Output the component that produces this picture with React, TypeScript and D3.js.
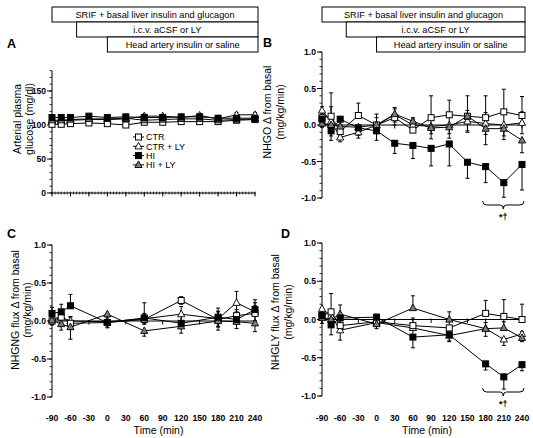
import React from 'react';
import * as d3 from 'd3';

const FONT = "'Liberation Sans', Arial, Helvetica, sans-serif";

// ---------- data ----------
const timesFull = [-90, -75, -60, -30, 0, 30, 60, 90, 120, 150, 180, 210, 240];
const timesSparse = [-90, -75, -60, 0, 60, 120, 180, 210, 240];
const xTickValues = [-90, -60, -30, 0, 30, 60, 90, 120, 150, 180, 210, 240];
const glucoseTicks = [0, 50, 100, 150];
const fluxTicks = [-1, -0.5, 0, 0.5, 1];
const legendNames = ['CTR', 'CTR + LY', 'HI', 'HI + LY'];
const headerLabels = ['SRIF + basal liver insulin and glucagon', 'i.c.v. aCSF or LY', 'Head artery insulin or saline'];
const headerStarts = [-90, -50, 0];

// A: arterial plasma glucose (mg/dl)
const glucCTR = [101, 101, 102, 103, 102, 100, 104, 104, 105, 105, 105, 107, 108];
const glucCTRLY = [105, 106, 107, 108, 108, 109, 113, 113, 111, 114, 109, 115, 115];
const glucHI = [111, 111, 111, 113, 111, 112, 111, 111, 112, 112, 110, 110, 110];
const glucHILY = [107, 107, 108, 109, 109, 110, 107, 108, 109, 109, 107, 108, 109];
const glucErrCTR = [2, 2, 2, 3, 3, 2, 2, 3, 2, 2, 3, 2, 2];
const glucErrCTRLY = [3, 2, 3, 2, 3, 3, 3, 2, 3, 3, 2, 3, 3];
const glucErrHI = [3, 2, 2, 3, 2, 3, 2, 2, 3, 2, 3, 3, 2];
const glucErrHILY = [2, 3, 2, 2, 3, 2, 3, 2, 2, 3, 2, 2, 3];

// B: NHGO
const ngoCTR = [0.10, 0.12, -0.09, 0.13, 0.0, 0.10, -0.07, 0.10, 0.14, 0.12, 0.10, 0.18, 0.13];
const ngoCTRLY = [0.20, 0.05, -0.17, -0.10, 0.0, 0.14, 0.0, -0.02, 0.0, 0.05, 0.02, 0.0, 0.03];
const ngoHI = [0.08, -0.08, 0.08, -0.04, -0.08, -0.25, -0.28, -0.32, -0.26, -0.51, -0.57, -0.79, -0.54];
const ngoHILY = [0.02, 0.0, -0.02, -0.03, 0.0, 0.15, 0.05, -0.04, -0.03, 0.12, -0.05, -0.05, -0.21];
const ngoErrCTR = [0.10, 0.32, 0.08, 0.17, 0.15, 0.12, 0.15, 0.30, 0.20, 0.28, 0.30, 0.31, 0.26];
const ngoErrCTRLY = [0.05, 0.20, 0.06, 0.08, 0.10, 0.10, 0.10, 0.10, 0.12, 0.15, 0.15, 0.15, 0.15];
const ngoErrHI = [0.10, 0.13, 0.08, 0.10, 0.13, 0.14, 0.18, 0.24, 0.30, 0.22, 0.22, 0.20, 0.35];
const ngoErrHILY = [0.05, 0.10, 0.10, 0.10, 0.10, 0.15, 0.10, 0.15, 0.15, 0.20, 0.22, 0.15, 0.17];

// C: NHGNG flux
const ngnCTR = [0.0, 0.05, -0.03, -0.02, 0.02, 0.27, 0.02, 0.07, 0.10];
const ngnCTRLY = [0.03, 0.05, 0.0, -0.01, 0.03, 0.09, 0.03, 0.24, 0.12];
const ngnHI = [0.10, 0.12, 0.20, -0.02, 0.04, -0.03, 0.05, 0.02, 0.15];
const ngnHILY = [0.01, -0.04, -0.08, 0.09, -0.13, -0.07, 0.0, -0.01, -0.03];
const ngnErrCTR = [0.05, 0.07, 0.08, 0.06, 0.06, 0.05, 0.10, 0.08, 0.10];
const ngnErrCTRLY = [0.05, 0.08, 0.06, 0.08, 0.07, 0.10, 0.10, 0.15, 0.12];
const ngnErrHI = [0.08, 0.10, 0.15, 0.08, 0.20, 0.10, 0.12, 0.10, 0.13];
const ngnErrHILY = [0.06, 0.08, 0.16, 0.08, 0.07, 0.09, 0.12, 0.09, 0.11];

// D: NHGLY flux
const nglCTR = [0.05, 0.10, -0.08, -0.03, -0.08, -0.11, 0.08, 0.04, 0.0];
const nglCTRLY = [0.14, 0.05, -0.14, -0.04, -0.11, -0.21, -0.12, -0.26, -0.19];
const nglHI = [0.05, -0.07, 0.02, 0.03, -0.23, -0.20, -0.58, -0.75, -0.59];
const nglHILY = [0.02, 0.0, 0.07, -0.06, 0.15, 0.0, -0.12, -0.11, -0.24];
const nglErrCTR = [0.10, 0.24, 0.10, 0.10, 0.10, 0.10, 0.17, 0.22, 0.20];
const nglErrCTRLY = [0.08, 0.10, 0.13, 0.08, 0.10, 0.08, 0.10, 0.08, 0.10];
const nglErrHI = [0.10, 0.13, 0.10, 0.12, 0.14, 0.08, 0.08, 0.16, 0.08];
const nglErrHILY = [0.08, 0.10, 0.12, 0.08, 0.16, 0.10, 0.08, 0.08, 0.08];

// ---------- styling ----------
const GRAY = '#7d7d7d';
type Kind = 'sqOpen' | 'triOpen' | 'sqFill' | 'triGray';
const kinds: Kind[] = ['sqOpen', 'triOpen', 'sqFill', 'triGray'];

function Marker({ kind, x, y }: { kind: Kind; x: number; y: number }) {
  if (kind === 'sqOpen' || kind === 'sqFill') {
    return <rect x={x - 3} y={y - 3} width={6} height={6} fill={kind === 'sqFill' ? '#000' : '#fff'} stroke="#000" strokeWidth={1} />;
  }
  const d = `M${x},${y - 4}L${x + 3.6},${y + 2.6}L${x - 3.6},${y + 2.6}Z`;
  return <path d={d} fill={kind === 'triGray' ? GRAY : '#fff'} stroke="#000" strokeWidth={0.9} />;
}

type Series = { kind: Kind; v: number[]; e: number[]; dir: 'up' | 'down' | 'both' };

type PanelDef = {
  letter: string; letterX: number; letterY: number;
  xRange: [number, number]; yDomain: [number, number]; yRange: [number, number];
  majors: number[]; minorStep: number; fmt: (d: number) => string;
  ylab: string[]; ylabX: number[]; ylabY: number;
  times: number[]; series: Series[];
  bottomAxis: boolean; header: boolean; xLabels: boolean;
  brace: null | { y: number };
  legend: boolean;
};

function Panel({ p }: { p: PanelDef }) {
  const x = d3.scaleLinear().domain([-90, 240]).range(p.xRange);
  const y = d3.scaleLinear().domain(p.yDomain).range(p.yRange);
  const x0 = p.xRange[0];
  const nMinor = Math.round((p.yDomain[1] - p.yDomain[0]) / p.minorStep);
  const minors = d3.range(nMinor + 1).map(i => p.yDomain[0] + i * p.minorStep);
  const line = d3.line<number>();
  const axisY = p.bottomAxis ? y(p.yDomain[0]) : y(0);
  const minorX = p.bottomAxis ? d3.range(-90, 241, 5) : [];
  const headerEnd = p.xRange[1] + 3;
  const rowH = 15;
  return (
    <g>
      {p.header && headerLabels.map((lab, i) => {
        const bx = x(headerStarts[i]);
        const by = 7 + i * rowH;
        return (
          <g key={lab}>
            <rect x={bx} y={by} width={headerEnd - bx} height={rowH} fill="#fff" stroke="#000" strokeWidth={1} />
            <text x={(bx + headerEnd) / 2} y={by + 11} fontSize={9.2} textAnchor="middle" fill="#000">{lab}</text>
          </g>
        );
      })}
      <text x={p.letterX} y={p.letterY} fontSize={12.5} fontWeight="bold">{p.letter}</text>
      {p.ylab.map((t, i) => (
        <text key={t} transform={`translate(${p.ylabX[i]},${p.ylabY}) rotate(-90)`} fontSize={10.5} textAnchor="middle">{t}</text>
      ))}
      <line x1={x0} x2={x0} y1={p.yRange[0]} y2={p.yRange[1]} stroke="#000" strokeWidth={1} />
      {minors.map(m => (
        <line key={'m' + m} x1={x0 - 2.5} x2={x0} y1={y(m)} y2={y(m)} stroke="#000" strokeWidth={0.8} />
      ))}
      {p.majors.map(m => (
        <g key={'M' + m}>
          <line x1={x0 - 5} x2={x0} y1={y(m)} y2={y(m)} stroke="#000" strokeWidth={1} />
          <text x={x0 - 6} y={y(m) + 3.2} fontSize={8.6} fontWeight="bold" textAnchor="end">{p.fmt(m)}</text>
        </g>
      ))}
      <line x1={x0} x2={p.xRange[1]} y1={axisY} y2={axisY} stroke="#000" strokeWidth={1} />
      {minorX.map(t => (
        <line key={'xm' + t} x1={x(t)} x2={x(t)} y1={axisY - 1.5} y2={axisY + 1.5} stroke="#000" strokeWidth={0.7} />
      ))}
      {xTickValues.map(t => (
        <line key={'xt' + t} x1={x(t)} x2={x(t)} y1={axisY - 1} y2={axisY + 3.5} stroke="#000" strokeWidth={1} />
      ))}
      {p.xLabels && (
        <g>
          {xTickValues.map(t => (
            <text key={'xl' + t} x={x(t)} y={421} fontSize={8.6} fontWeight="bold" textAnchor="middle">{String(t)}</text>
          ))}
          <text x={(p.xRange[0] + p.xRange[1]) / 2 + 5} y={434} fontSize={10.5} textAnchor="middle">Time (min)</text>
        </g>
      )}
      {p.series.map((s, si) => (
        <g key={'e' + si}>
          {s.v.map((v, i) => {
            const px = x(p.times[i]);
            const top = s.dir === 'down' ? v : v + s.e[i];
            const bot = s.dir === 'up' ? v : v - s.e[i];
            return (
              <g key={i}>
                <line x1={px} x2={px} y1={y(top)} y2={y(bot)} stroke="#000" strokeWidth={1} />
                {s.dir !== 'down' && <line x1={px - 2} x2={px + 2} y1={y(top)} y2={y(top)} stroke="#000" strokeWidth={1} />}
                {s.dir !== 'up' && <line x1={px - 2} x2={px + 2} y1={y(bot)} y2={y(bot)} stroke="#000" strokeWidth={1} />}
              </g>
            );
          })}
        </g>
      ))}
      {p.series.map((s, si) => (
        <path key={'l' + si} d={line(s.v.map((v, i) => [x(p.times[i]), y(v)]) as any) || ''} fill="none" stroke="#000" strokeWidth={1} />
      ))}
      {p.series.map((s, si) => (
        <g key={'k' + si}>
          {s.v.map((v, i) => <Marker key={i} kind={s.kind} x={x(p.times[i])} y={y(v)} />)}
        </g>
      ))}
      {p.brace && (() => {
        const bx0 = x(180) - 3;
        const bx1 = x(240) + 2;
        const bc = (bx0 + bx1) / 2;
        const by = p.brace.y;
        const d = `M${bx0},${by} Q${bx0},${by + 4} ${bx0 + 4},${by + 4} L${bc - 3},${by + 4} Q${bc},${by + 4} ${bc},${by + 8} Q${bc},${by + 4} ${bc + 3},${by + 4} L${bx1 - 4},${by + 4} Q${bx1},${by + 4} ${bx1},${by}`;
        return (
          <g>
            <path d={d} fill="none" stroke="#000" strokeWidth={1} />
            <text x={bc} y={by + 19} fontSize={9} fontWeight="bold" textAnchor="middle">*†</text>
          </g>
        );
      })()}
      {p.legend && legendNames.map((n, i) => {
        const ly = 137 + i * 9.3;
        return (
          <g key={n}>
            <line x1={133} x2={144} y1={ly} y2={ly} stroke="#000" strokeWidth={1} />
            <Marker kind={kinds[i]} x={138.5} y={ly} />
            <text x={146} y={ly + 3.3} fontSize={9}>{n}</text>
          </g>
        );
      })}
    </g>
  );
}

const fmtD = (d: number) => String(d);
const fmt1 = (d: number) => d3.format('.1f')(d).replace('−', '-');

const panels: PanelDef[] = [
  {
    letter: 'A', letterX: 7, letterY: 48,
    xRange: [52, 255], yDomain: [0, 180], yRange: [193, 70.6],
    majors: glucoseTicks, minorStep: 10, fmt: fmtD,
    ylab: ['Arterial plasma', 'glucose (mg/dl)'], ylabX: [21, 33], ylabY: 119,
    times: timesFull,
    series: [
      { kind: 'triOpen', v: glucCTRLY, e: glucErrCTRLY, dir: 'both' },
      { kind: 'sqOpen', v: glucCTR, e: glucErrCTR, dir: 'down' },
      { kind: 'triGray', v: glucHILY, e: glucErrHILY, dir: 'both' },
      { kind: 'sqFill', v: glucHI, e: glucErrHI, dir: 'up' },
    ],
    bottomAxis: true, header: true, xLabels: false, brace: null, legend: true,
  },
  {
    letter: 'B', letterX: 263, letterY: 47,
    xRange: [322, 522], yDomain: [-1, 1], yRange: [198, 52],
    majors: fluxTicks, minorStep: 0.1, fmt: fmt1,
    ylab: ['NHGO Δ from basal', '(mg/kg/min)'], ylabX: [271, 284], ylabY: 112,
    times: timesFull,
    series: [
      { kind: 'triOpen', v: ngoCTRLY, e: ngoErrCTRLY, dir: 'both' },
      { kind: 'sqOpen', v: ngoCTR, e: ngoErrCTR, dir: 'up' },
      { kind: 'triGray', v: ngoHILY, e: ngoErrHILY, dir: 'down' },
      { kind: 'sqFill', v: ngoHI, e: ngoErrHI, dir: 'down' },
    ],
    bottomAxis: false, header: true, xLabels: false, brace: { y: 201 }, legend: false,
  },
  {
    letter: 'C', letterX: 7, letterY: 238,
    xRange: [52, 255], yDomain: [-1, 1], yRange: [397, 245],
    majors: fluxTicks, minorStep: 0.1, fmt: fmt1,
    ylab: ['NHGNG  flux Δ from basal', '(mg/kg/min)'], ylabX: [19, 31], ylabY: 310,
    times: timesSparse,
    series: [
      { kind: 'triOpen', v: ngnCTRLY, e: ngnErrCTRLY, dir: 'both' },
      { kind: 'sqOpen', v: ngnCTR, e: ngnErrCTR, dir: 'both' },
      { kind: 'triGray', v: ngnHILY, e: ngnErrHILY, dir: 'down' },
      { kind: 'sqFill', v: ngnHI, e: ngnErrHI, dir: 'up' },
    ],
    bottomAxis: false, header: false, xLabels: true, brace: null, legend: false,
  },
  {
    letter: 'D', letterX: 281, letterY: 238,
    xRange: [322, 522], yDomain: [-1, 1], yRange: [396, 243],
    majors: fluxTicks, minorStep: 0.1, fmt: fmt1,
    ylab: ['NHGLY flux Δ from basal', '(mg/kg/min)'], ylabX: [279, 292], ylabY: 312,
    times: timesSparse,
    series: [
      { kind: 'triOpen', v: nglCTRLY, e: nglErrCTRLY, dir: 'down' },
      { kind: 'sqOpen', v: nglCTR, e: nglErrCTR, dir: 'up' },
      { kind: 'triGray', v: nglHILY, e: nglErrHILY, dir: 'up' },
      { kind: 'sqFill', v: nglHI, e: nglErrHI, dir: 'down' },
    ],
    bottomAxis: false, header: false, xLabels: true, brace: { y: 388 }, legend: false,
  },
];

export default function App() {
  return (
    <svg width={533} height={438} style={{ position: 'absolute', left: 0, top: 0, display: 'block' }} fontFamily={FONT}>
      <rect width={533} height={438} fill="#fff" />
      {panels.map(p => <Panel key={p.letter} p={p} />)}
    </svg>
  );
}
